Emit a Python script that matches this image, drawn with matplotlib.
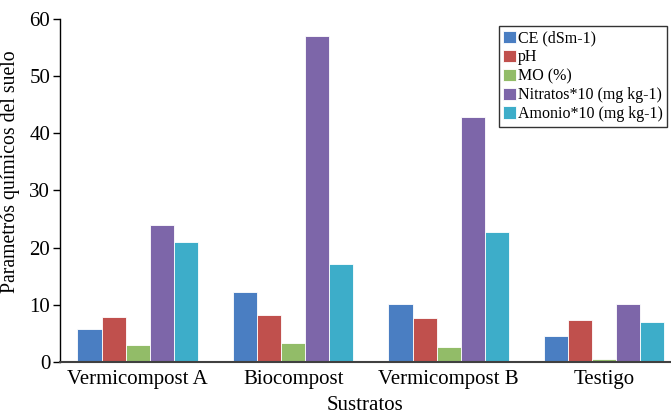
import numpy as np
import matplotlib
matplotlib.use("Agg")
import matplotlib.pyplot as plt

# data
sustratos = ["Vermicompost A", "Biocompost", "Vermicompost B", "Testigo"]
series = ["CE (dSm-1)", "pH", "MO (%)", "Nitratos*10 (mg kg-1)", "Amonio*10 (mg kg-1)"]
ce = [5.8, 12.2, 10.1, 4.5]
ph = [7.9, 8.2, 7.7, 7.3]
mo = [3.0, 3.3, 2.6, 0.5]
nitratos = [24.0, 57.0, 42.8, 10.1]
amonio = [21.0, 17.1, 22.7, 7.0]
colors = ["#4A7EC2", "#C0504D", "#92BC68", "#7D66A9", "#3DADC9"]

plt.rcParams["font.family"] = ["Liberation Serif", "DejaVu Serif"]

fig = plt.figure(figsize=(6.71, 4.17), dpi=100)
ax = fig.add_axes([0.0894, 0.132, 0.9106, 0.8225])

x = np.arange(len(sustratos))
width = 0.155
values = [ce, ph, mo, nitratos, amonio]
for i, (name, vals) in enumerate(zip(series, values)):
    ax.bar(x + (i - 2) * width, vals, width, color=colors[i], label=name,
           edgecolor="white", linewidth=0.6)

ax.set_xlim(-0.5, 3.43)
ax.set_ylim(0, 60)
ax.set_yticks(range(0, 61, 10))
ax.set_xticks(x)
ax.set_xticklabels(sustratos)
ax.tick_params(axis="x", length=0, labelsize=15, pad=6)
ax.tick_params(axis="y", length=5, width=1, labelsize=15, pad=2)
ax.spines["top"].set_visible(False)
ax.spines["right"].set_visible(False)
ax.spines["bottom"].set_linewidth(1.5)
ax.spines["bottom"].set_color("#404040")
ax.spines["left"].set_linewidth(1.0)
ax.set_xlabel("Sustratos", fontsize=15, labelpad=5)
ax.set_ylabel("Parametrós químicos del suelo", fontsize=14.2)
ax.yaxis.set_label_coords(-0.066, 0.555)

leg = ax.legend(loc="upper right", bbox_to_anchor=(0.994, 0.98), fontsize=11.5,
                frameon=True, fancybox=False, handlelength=0.8, handleheight=0.8,
                handletextpad=0.1, labelspacing=0.18, borderpad=0.3,
                borderaxespad=0)
leg.get_frame().set_edgecolor("black")
leg.get_frame().set_linewidth(1.0)

fig.savefig("out.png", dpi=100)
